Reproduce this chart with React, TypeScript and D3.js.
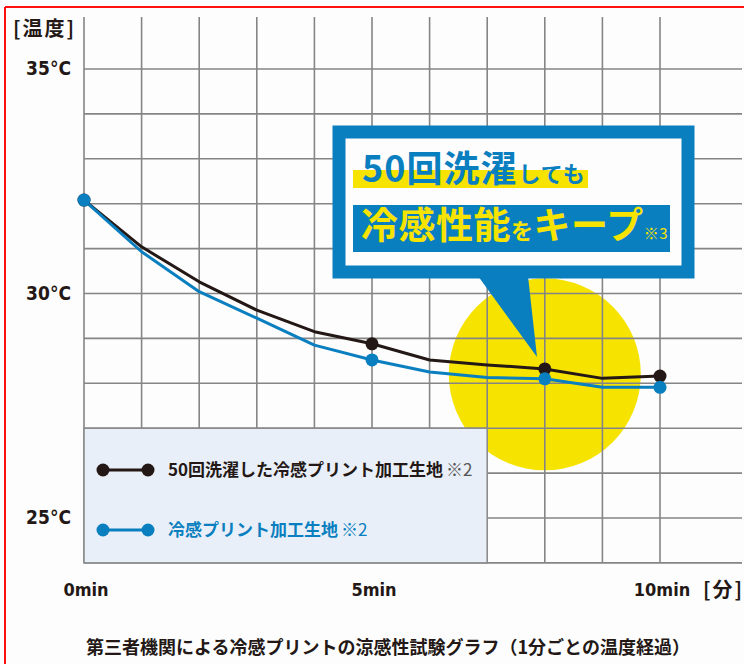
import React from "react";
import * as d3 from "d3";

const minutes = [0, 1, 2, 3, 4, 5, 6, 7, 8, 9, 10];
const washedTemps = [32.08, 31.04, 30.26, 29.63, 29.15, 28.88, 28.52, 28.41, 28.32, 28.11, 28.16];
const coolTemps = [32.08, 30.93, 30.04, 29.45, 28.85, 28.52, 28.25, 28.13, 28.1, 27.91, 27.91];
const markerMinutes = [0, 5, 8, 10];
const yTicks = [35, 30, 25];
const xTicks = [0, 5, 10];
const gridTemps = [24, 25, 26, 27, 28, 29, 30, 31, 32, 33, 34, 35];
const seriesNames = ["50回洗濯した冷感プリント加工生地", "冷感プリント加工生地"];

const BLACK = "#231815";
const BLUE = "#0a7fc0";
const YELLOW = "#f7e300";
const JP = "'Noto Sans CJK JP', 'Noto Sans', sans-serif";
const COND = "'Liberation Sans Narrow', 'DejaVu Sans Condensed', 'Noto Sans', sans-serif";

export default function App() {
  const x = d3.scaleLinear().domain([0, 10]).range([84, 660]);
  const y = d3.scaleLinear().domain([25, 35]).range([518, 69]);
  const line = d3
    .line<number>()
    .x((_, i) => x(minutes[i]))
    .y((d) => y(d));

  const gridTop = 17;
  const gridBottom = y(24);
  const gridRight = 742;

  return (
    <svg
      width={744}
      height={664}
      style={{ position: "absolute", left: 0, top: 0, background: "#fdfdfd" }}
    >
      <rect x={0} y={0} width={744} height={664} fill="#fdfdfd" />
      {/* red frame */}
      <line x1={5} y1={7} x2={744} y2={7} stroke="#ff1010" strokeWidth={2} />
      <line x1={5} y1={7} x2={5} y2={664} stroke="#ff1010" strokeWidth={2} />

      {/* yellow highlight circle */}
      <circle cx={x(8)} cy={y(28.2)} r={96} fill={YELLOW} />

      {/* grid */}
      {minutes.map((m) => (
        <line
          key={"v" + m}
          x1={x(m)}
          x2={x(m)}
          y1={gridTop}
          y2={gridBottom}
          stroke="#858585"
          strokeWidth={1.6}
        />
      ))}
      {gridTemps.map((t) => (
        <line
          key={"h" + t}
          x1={x(0)}
          x2={gridRight}
          y1={y(t)}
          y2={y(t)}
          stroke="#858585"
          strokeWidth={1.6}
        />
      ))}

      {/* legend box */}
      <rect
        x={x(0)}
        y={y(27)}
        width={x(7) - x(0)}
        height={gridBottom - y(27)}
        fill="#e9eff8"
        stroke="#8c8c8c"
        strokeWidth={1.6}
      />
      <g>
        <line x1={103} x2={148} y1={470} y2={470} stroke={BLACK} strokeWidth={3} />
        <circle cx={103} cy={470} r={6.5} fill={BLACK} />
        <circle cx={148} cy={470} r={6.5} fill={BLACK} />
        <text x={168} y={476} fontFamily={JP} fontSize={17} fontWeight={700} fill={BLACK}>
          {seriesNames[0]}
          <tspan fontWeight={400} fill="#555" dx={3}>※2</tspan>
        </text>
        <line x1={103} x2={148} y1={530} y2={530} stroke={BLUE} strokeWidth={3} />
        <circle cx={103} cy={530} r={6.5} fill={BLUE} />
        <circle cx={148} cy={530} r={6.5} fill={BLUE} />
        <text x={168} y={536} fontFamily={JP} fontSize={17} fontWeight={700} fill={BLUE}>
          {seriesNames[1]}
          <tspan fontWeight={400} dx={3}>※2</tspan>
        </text>
      </g>

      {/* series lines */}
      <path d={line(washedTemps) || ""} fill="none" stroke={BLACK} strokeWidth={3} strokeLinejoin="round" />
      <path d={line(coolTemps) || ""} fill="none" stroke={BLUE} strokeWidth={3} strokeLinejoin="round" />
      {markerMinutes.map((m) => (
        <circle key={"b" + m} cx={x(m)} cy={y(washedTemps[m])} r={6.5} fill={BLACK} />
      ))}
      {markerMinutes.map((m) => (
        <circle key={"c" + m} cx={x(m)} cy={y(coolTemps[m])} r={6.5} fill={BLUE} />
      ))}

      {/* callout */}
      <polygon points="478,276 528,276 537,357" fill={BLUE} />
      <rect x={339} y={132} width={349} height={140} fill="#fdfdfd" stroke={BLUE} strokeWidth={13} />
      <rect x={353} y={170} width={235} height={18} fill={YELLOW} />
      <text x={362} y={182} fontFamily={JP} fontWeight={700} fill={BLUE} fontSize={36} letterSpacing={1}>
        50回洗濯<tspan fontSize={22} dx={1}>しても</tspan>
      </text>
      <rect x={353} y={205} width={317} height={47} fill={BLUE} />
      <text x={361} y={239} fontFamily={JP} fontWeight={700} fill={YELLOW} fontSize={37} letterSpacing={0.5}>
        冷感性能<tspan fontSize={22}>を</tspan>キープ
        <tspan fontSize={15} fontWeight={400}>※3</tspan>
      </text>

      {/* y axis labels */}
      <text x={13} y={36} fontFamily={JP} fontSize={20} fontWeight={700} fill={BLACK} letterSpacing={2}>
        [温度]
      </text>
      {yTicks.map((t) => (
        <text
          key={"yt" + t}
          x={71}
          y={y(t) + 6}
          textAnchor="end"
          fontFamily={COND}
          fontSize={19}
          fontWeight={700}
          fill={BLACK}
        >
          {t}°C
        </text>
      ))}

      {/* x axis labels */}
      {xTicks.map((m) => (
        <text
          key={"xt" + m}
          x={x(m) + 2}
          y={596}
          textAnchor="middle"
          fontFamily={COND}
          fontSize={18}
          fontWeight={700}
          fill={BLACK}
        >
          {m}min
        </text>
      ))}
      <text x={703} y={597} fontFamily={JP} fontSize={20} fontWeight={700} fill={BLACK} letterSpacing={2}>
        [分]
      </text>

      {/* title */}
      <text x={388} y={654} textAnchor="middle" fontFamily={JP} fontSize={18} fontWeight={700} fill={BLACK}>
        第三者機関による冷感プリントの涼感性試験グラフ（1分ごとの温度経過）
      </text>
    </svg>
  );
}
